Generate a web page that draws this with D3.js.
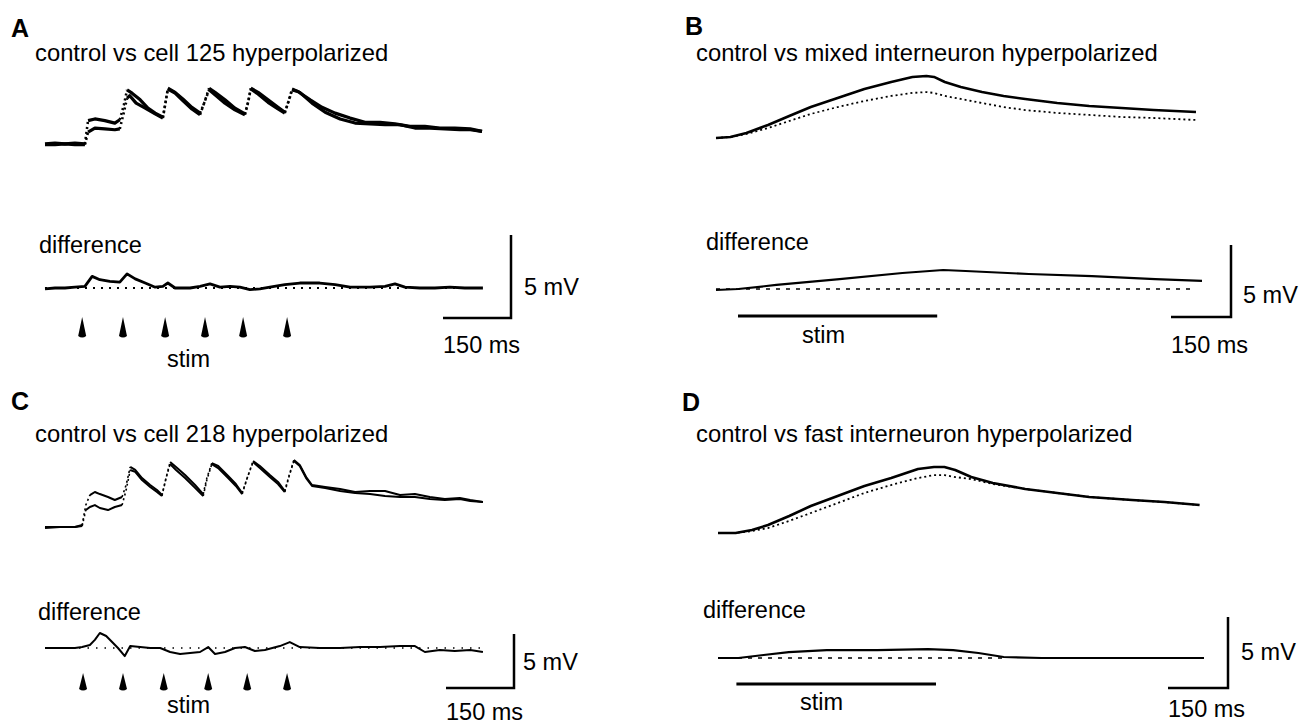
<!DOCTYPE html>
<meta charset="utf-8">
<script src="https://d3js.org/d3.v7.min.js"></script>
<style>
  body { margin: 0; background: #fff; }
  text { font-family: "Liberation Sans", Arial, sans-serif; fill: #000; }
</style>
<div id="my_dataviz"></div>
<script>

// ---------- labels ----------
var panelLetters = ["A", "B", "C", "D"];
var panelTitles = [
  "control vs cell 125 hyperpolarized",
  "control vs mixed interneuron hyperpolarized",
  "control vs cell 218 hyperpolarized",
  "control vs fast interneuron hyperpolarized"
];
var diffLabel = "difference";
var stimLabel = "stim";
var barMs = 150, barMv = 5;

// ---------- panel A (ms, mV) ----------
var timeA1 = [0,22,44,66,88,95,110,132,154,165,174,181,192,210,227,243,260,265,271,287,304,324,342,351,362,375,397,419,441,448,454,470,492,514,529,538,545,558,585,611,640,673,706,739,772,805,838,871,904,938,964];
var vmA1 = [-0.05,0,-0.05,0,-0.05,1.35,1.45,1.35,1.2,1.4,2.3,3.2,3.0,2.6,2.1,1.8,1.55,2.3,3.3,3.05,2.65,2.15,1.8,2.4,3.3,3.05,2.6,2.1,1.75,2.45,3.3,3.05,2.6,2.15,1.85,2.55,3.2,3.1,2.6,2.15,1.8,1.5,1.25,1.25,1.15,1.0,1.0,0.9,0.9,0.85,0.7];
var timeA2 = [0,22,44,66,88,95,110,132,154,165,174,181,187,201,221,243,260,265,271,287,304,324,342,351,362,375,397,419,441,448,454,470,492,514,529,538,545,562,589,618,651,684,717,750,783,816,849,882,915,938,964];
var vmA2 = [-0.1,-0.1,-0.05,-0.1,-0.1,0.65,0.9,0.85,0.8,0.85,1.85,2.7,2.85,2.4,2.1,1.75,1.5,2.3,3.25,3.0,2.55,2.05,1.7,2.4,3.2,2.9,2.4,2.0,1.7,2.45,3.25,2.95,2.45,2.05,1.8,2.6,3.25,3.05,2.4,1.85,1.45,1.2,1.15,1.1,1.1,0.9,0.9,0.85,0.8,0.8,0.7];
var timeADiff = [0,22,44,66,88,104,121,143,165,181,199,221,243,260,271,287,320,342,364,386,408,430,452,474,496,529,562,606,640,673,717,750,772,794,827,860,893,926,948,966];
var vmADiff = [-0.05,0,0,0.05,0.1,0.7,0.5,0.4,0.35,0.85,0.55,0.3,0.05,0.1,0.3,0,0,0.1,0.25,0.05,0.1,0.05,-0.1,-0.05,0.05,0.2,0.3,0.3,0.2,0.05,0.05,0.1,0.25,0.05,0,0,0.05,0,0,0];
var stimA = [82, 172, 265, 353, 437, 534];

// ---------- panel C (ms, mV) ----------
var timeC = [0,33,66,82,90,99,110,121,139,154,170,179,188,199,214,232,247,258,267,276,289,309,331,349,357,368,382,404,421,435,446,459,474,496,514,529,538,549,562,576,589,618,651,684,717,750,783,816,849,882,915,938,966];
var vmC1 = [0,0,0,0.18,2.03,2.96,3.24,3.05,2.78,2.5,2.78,3.89,5.56,5.28,4.53,3.89,3.42,2.96,4.53,6.02,5.56,4.81,3.89,3.05,4.53,5.92,5.65,4.72,3.98,3.15,4.53,6.11,5.65,4.81,4.17,3.33,4.72,6.2,5.74,4.63,3.89,3.71,3.51,3.24,3.33,3.33,2.96,3.05,2.78,2.59,2.69,2.5,2.32];
var vmC2 = [-0.09,0,0,0.09,1.57,1.85,2.03,1.76,1.57,1.85,2.03,3.42,5.28,5.1,4.35,3.71,3.24,2.87,4.53,5.83,5.28,4.53,3.62,2.87,4.35,5.83,5.46,4.53,3.8,3.05,4.53,6.02,5.46,4.63,3.98,3.24,4.63,6.11,5.65,4.53,3.8,3.62,3.33,3.15,3.05,2.87,2.78,2.78,2.59,2.5,2.59,2.41,2.32];
var timeCDiff = [0,33,66,82,99,110,121,135,148,161,176,188,210,232,254,276,298,320,342,360,375,397,419,441,463,485,518,540,562,606,651,695,739,783,816,838,871,904,938,966];
var vmCDiff = [0,0,0,0.09,0.28,0.75,1.39,1.11,0.55,0,-0.75,0.18,0.09,0,0,-0.37,-0.55,-0.46,-0.37,0.09,-0.55,-0.37,0,0.09,-0.28,-0.18,0.18,0.55,0.09,0,0,0.09,0.09,0.18,0.18,-0.37,-0.18,-0.28,-0.18,-0.37];
var stimC = [84, 172, 262, 360, 446, 534];

// ---------- panel B (ms, mV) ----------
var timeB = [0,36,76,130,183,237,304,371,438,491,526,545,572,612,665,719,773,853,933,1014,1094,1200];
var vmBControl = [0,0.07,0.35,0.9,1.53,2.15,2.78,3.4,3.89,4.24,4.31,4.24,3.89,3.54,3.19,2.92,2.71,2.43,2.22,2.08,1.94,1.81];
var vmBHyper = [0,0.07,0.28,0.69,1.18,1.67,2.15,2.57,2.92,3.13,3.19,3.13,2.92,2.71,2.43,2.15,1.94,1.74,1.6,1.46,1.39,1.25];
var timeBDiff = [0,56,151,309,466,568,624,782,940,1098,1215];
var vmBDiff = [-0.07,0,0.28,0.69,1.11,1.32,1.25,1.04,0.9,0.69,0.56];
var stimB = [55, 553];

// ---------- panel D (ms, mV) ----------
var timeD = [0,44,85,125,178,232,299,366,433,500,540,566,593,633,687,768,848,928,1035,1116,1204];
var vmDControl = [0,0,0.21,0.56,1.2,1.9,2.61,3.31,3.87,4.51,4.65,4.65,4.44,3.94,3.52,3.1,2.82,2.54,2.32,2.18,1.97];
var vmDHyper = [0,0,0.14,0.35,0.85,1.41,2.11,2.82,3.38,3.87,4.08,4.08,3.94,3.8,3.45,3.1,2.82,2.54,2.32,2.18,1.97];
var timeDDiff = [0,51,114,177,272,398,525,588,651,714,809,935,1093,1215];
var vmDDiff = [0,0,0.21,0.42,0.56,0.56,0.63,0.56,0.35,0.07,0,0,0,0];
var stimD = [46, 545];

// ---------- svg ----------
var W = 1302, H = 725;
var svg = d3.select("#my_dataviz")
  .append("svg")
  .attr("width", W)
  .attr("height", H);

var line = function (x, y) {
  return d3.line().x(function (d) { return x(d[0]); }).y(function (d) { return y(d[1]); });
};

// draws a trace; fast rising parts look dotted like the digitised record
function drawTrace(t, v, x, y, width) {
  var pts = t.map(function (d, i) { return [d, v[i]]; });
  var runs = [], cur = null;
  for (var i = 1; i < pts.length; i++) {
    var dx = Math.max(1, x(pts[i][0]) - x(pts[i - 1][0]));
    var steep = (y(pts[i - 1][1]) - y(pts[i][1])) / dx > 2.2;
    if (!cur || cur.steep !== steep) { cur = { steep: steep, pts: [pts[i - 1]] }; runs.push(cur); }
    cur.pts.push(pts[i]);
  }
  runs.forEach(function (r) {
    svg.append("path")
      .attr("d", line(x, y)(r.pts))
      .attr("fill", "none")
      .attr("stroke", "#000")
      .attr("stroke-width", r.steep ? width * 0.8 : width)
      .attr("stroke-linejoin", "round")
      .attr("stroke-dasharray", r.steep ? "2,3" : null);
  });
}

function drawPlain(t, v, x, y, width, dash) {
  svg.append("path")
    .datum(t.map(function (d, i) { return [d, v[i]]; }))
    .attr("fill", "none")
    .attr("stroke", "#000")
    .attr("stroke-width", width)
    .attr("stroke-linejoin", "round")
    .attr("stroke-dasharray", dash || null)
    .attr("d", line(x, y));
}

function zeroLine(t0, t1, x, y, width, dash) {
  svg.append("line")
    .attr("x1", x(t0)).attr("x2", x(t1))
    .attr("y1", y(0)).attr("y2", y(0))
    .attr("stroke", "#000")
    .attr("stroke-width", width)
    .attr("stroke-dasharray", dash);
}

function stimBar(stim, x, yp) {
  svg.append("line")
    .attr("x1", x(stim[0])).attr("x2", x(stim[1]))
    .attr("y1", yp).attr("y2", yp)
    .attr("stroke", "#000").attr("stroke-width", 3);
}

// L shaped scale bar, corner at (cx, cy)
function scaleBar(cx, cy, x, y, mvDx, mvDy, msDy) {
  var lenX = x(barMs) - x(0), lenY = y(0) - y(barMv);
  svg.append("path")
    .attr("d", "M" + (cx - lenX) + "," + cy + "H" + cx + "V" + (cy - lenY))
    .attr("fill", "none").attr("stroke", "#000").attr("stroke-width", 2.5);
  label(barMv + " mV", cx + mvDx, cy - mvDy, 23.5);
  label(barMs + " ms", cx - lenX, cy + msDy, 23.5);
}

function arrows(times, x, yTip, h) {
  svg.selectAll(null)
    .data(times)
    .enter()
    .append("path")
    .attr("d", "M0,0 L-4," + (h - 2) + " Q0," + (h + 1) + " 4," + (h - 2) + " Z")
    .attr("transform", function (d) { return "translate(" + x(d) + "," + yTip + ")"; })
    .attr("fill", "#000");
}

function label(txt, xp, yp, fs, bold) {
  svg.append("text").attr("x", xp).attr("y", yp)
    .style("font-size", fs + "px")
    .style("font-weight", bold ? "bold" : "normal")
    .text(txt);
}

var titleSize = 23.8, labelSize = 23.5, letterSize = 25;

// ================= Panel A =================
var xA = d3.scaleLinear().domain([0, 1000]).range([45, 45 + 1000 * 68 / 150]);
var yA = d3.scaleLinear().domain([0, 5]).range([143, 60]);
var yAd = d3.scaleLinear().domain([0, 5]).range([288, 205]);
label(panelLetters[0], 11, 37, letterSize, true);
label(panelTitles[0], 35, 61, titleSize);
drawTrace(timeA2, vmA2, xA, yA, 3.2);
drawTrace(timeA1, vmA1, xA, yA, 3.2);
label(diffLabel, 39, 253, labelSize);
zeroLine(0, 966, xA, yAd, 2, "2,6");
drawPlain(timeADiff, vmADiff, xA, yAd, 2.8);
arrows(stimA, xA, 317, 21);
label(stimLabel, 167, 367, labelSize);
scaleBar(511, 318, xA, yAd, 13, 23, 35);

// ================= Panel C =================
var xC = d3.scaleLinear().domain([0, 1000]).range([45, 45 + 1000 * 68 / 150]);
var yC = d3.scaleLinear().domain([0, 5]).range([527, 473]);
var yCd = d3.scaleLinear().domain([0, 5]).range([648, 594]);
label(panelLetters[2], 11, 410, letterSize, true);
label(panelTitles[2], 35, 442, titleSize);
drawTrace(timeC, vmC2, xC, yC, 2);
drawTrace(timeC, vmC1, xC, yC, 2);
label(diffLabel, 38, 620, labelSize);
zeroLine(0, 966, xC, yCd, 1.5, "1.5,7");
drawPlain(timeCDiff, vmCDiff, xC, yCd, 2);
arrows(stimC, xC, 673, 18);
label(stimLabel, 167, 713, labelSize);
scaleBar(514, 688, xC, yCd, 9, 18, 32);

// ================= Panel B =================
var xB = d3.scaleLinear().domain([0, 1200]).range([716, 716 + 1200 * 60 / 150]);
var yB = d3.scaleLinear().domain([0, 5]).range([138, 66]);
var yBd = d3.scaleLinear().domain([0, 5]).range([289, 217]);
label(panelLetters[1], 685, 35, letterSize, true);
label(panelTitles[1], 696, 61, titleSize);
drawPlain(timeB, vmBHyper, xB, yB, 1.8, "2,3");
drawPlain(timeB, vmBControl, xB, yB, 2.6);
label(diffLabel, 706, 250, labelSize);
zeroLine(0, 1200, xB, yBd, 1.6, "4,6");
drawPlain(timeBDiff, vmBDiff, xB, yBd, 2.2);
stimBar(stimB, xB, 316);
label(stimLabel, 802, 343, labelSize);
scaleBar(1231, 317, xB, yBd, 12, 14, 36);

// ================= Panel D =================
var xD = d3.scaleLinear().domain([0, 1200]).range([718, 718 + 1200 * 60 / 150]);
var yD = d3.scaleLinear().domain([0, 5]).range([533, 462]);
var yDd = d3.scaleLinear().domain([0, 5]).range([658, 587]);
label(panelLetters[3], 682, 411, letterSize, true);
label(panelTitles[3], 696, 442, titleSize);
drawPlain(timeD, vmDHyper, xD, yD, 1.8, "2,3");
drawPlain(timeD, vmDControl, xD, yD, 2.6);
label(diffLabel, 703, 618, labelSize);
zeroLine(0, 714, xD, yDd, 1.6, "4,6");
drawPlain(timeDDiff, vmDDiff, xD, yDd, 2.2);
stimBar(stimD, xD, 684);
label(stimLabel, 800, 710, labelSize);
scaleBar(1228, 688, xD, yDd, 13, 28, 29);

</script>
